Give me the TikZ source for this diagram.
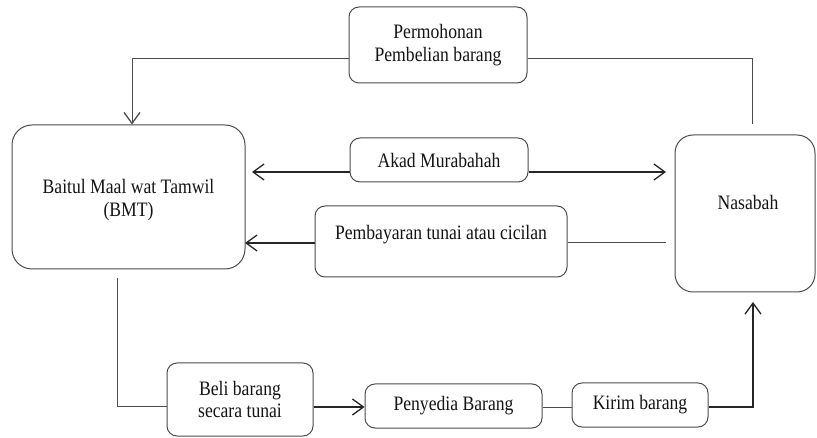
\documentclass[tikz,border=0pt]{standalone}
\usepackage{fontspec}
\setmainfont{Liberation Serif}[FakeStretch=0.86]
\usetikzlibrary{arrows.meta,calc}
\begin{document}
\begin{tikzpicture}[x=1pt,y=-1pt,
  box/.style={draw=black!70, line width=1pt, rounded corners=10pt, fill=white, align=center,
    font=\fontsize{20.5}{22.5}\selectfont, text=black!92, inner sep=0pt},
  txt/.style={align=center, font=\fontsize{20.5}{22.5}\selectfont, text=black!92, inner sep=0pt},
  ln/.style={draw=black!70, line width=1pt},
  tip/.style={-{Straight Barb[length=11pt,width=16pt,line width=1.3pt]}},
  arr/.style={draw=black!85, line width=1.6pt},
]
\useasboundingbox (0,0) rectangle (817,438);
\fill[white] (0,0) rectangle (817,438);

% boxes
\node[box, minimum width=178pt, minimum height=76pt] (perm) at (438,45) {Permohonan\\Pembelian barang};
\node[box, rounded corners=20pt, minimum width=233pt, minimum height=144pt] (bmt) at (128.5,197) {};
\node[txt] (bmttxt) at (128.5,200) {Baitul Maal wat Tamwil\\(BMT)};
\node[box, rounded corners=18pt, minimum width=140pt, minimum height=157pt] (nas) at (745,213.5) {};
\node[txt] (nastxt) at (748,202) {Nasabah};
\node[box, minimum width=178pt, minimum height=44pt] (akad) at (439,160) {Akad Murabahah};
\node[box, minimum width=252pt, minimum height=71pt] (pay) at (441,241.5) {};
\node[txt] (paytxt) at (441,235) {Pembayaran tunai atau cicilan};
\node[box, minimum width=146pt, minimum height=73pt] (beli) at (240,399.5) {Beli barang\\secara tunai};
\node[box, minimum width=177pt, minimum height=44pt] (peny) at (453.5,406) {Penyedia Barang};
\node[box, minimum width=136pt, minimum height=44pt] (kirim) at (640,405) {Kirim barang};

% free ends
\coordinate (nTop) at ($(nas.north)+(7,-10)$);
\coordinate (bmtIn) at ($(bmt.north)+(3.5,0)$);
\coordinate (akL) at (252,172);
\coordinate (akR) at (666,172);
\coordinate (payR) at (666,243);
\coordinate (bmtPay) at (245,243);
\coordinate (bmtBot) at (117,278);
\coordinate (nasBot) at (753,302);

% connectors
\draw[ln] (nTop) |- ($(perm.east)+(0,14)$);
\draw[ln] ($(perm.west)+(0,14)$) -| ($(bmtIn)+(0,-8)$);
\draw[ln, tip] ($(bmtIn)+(0,-8.5)$) -- (bmtIn);
\draw[arr, tip] ($(akad.west)+(0,12)$) -- (akL);
\draw[arr, tip] ($(akad.east)+(0,12)$) -- (akR);
\draw[ln] (payR) -- ($(pay.east)+(0,1.5)$);
\draw[arr, tip] ($(pay.west)+(0,1.5)$) -- (bmtPay);
\draw[ln] (bmtBot) |- ($(beli.west)+(0,6.5)$);
\draw[arr, tip] ($(beli.east)+(0,7.5)$) -- ($(peny.west)+(0,1)$);
\draw[ln] ($(peny.east)+(0,1)$) -- ($(kirim.west)+(0,2)$);
\draw[arr, tip] ($(kirim.east)+(0,2)$) -| (nasBot);
\end{tikzpicture}
\end{document}
